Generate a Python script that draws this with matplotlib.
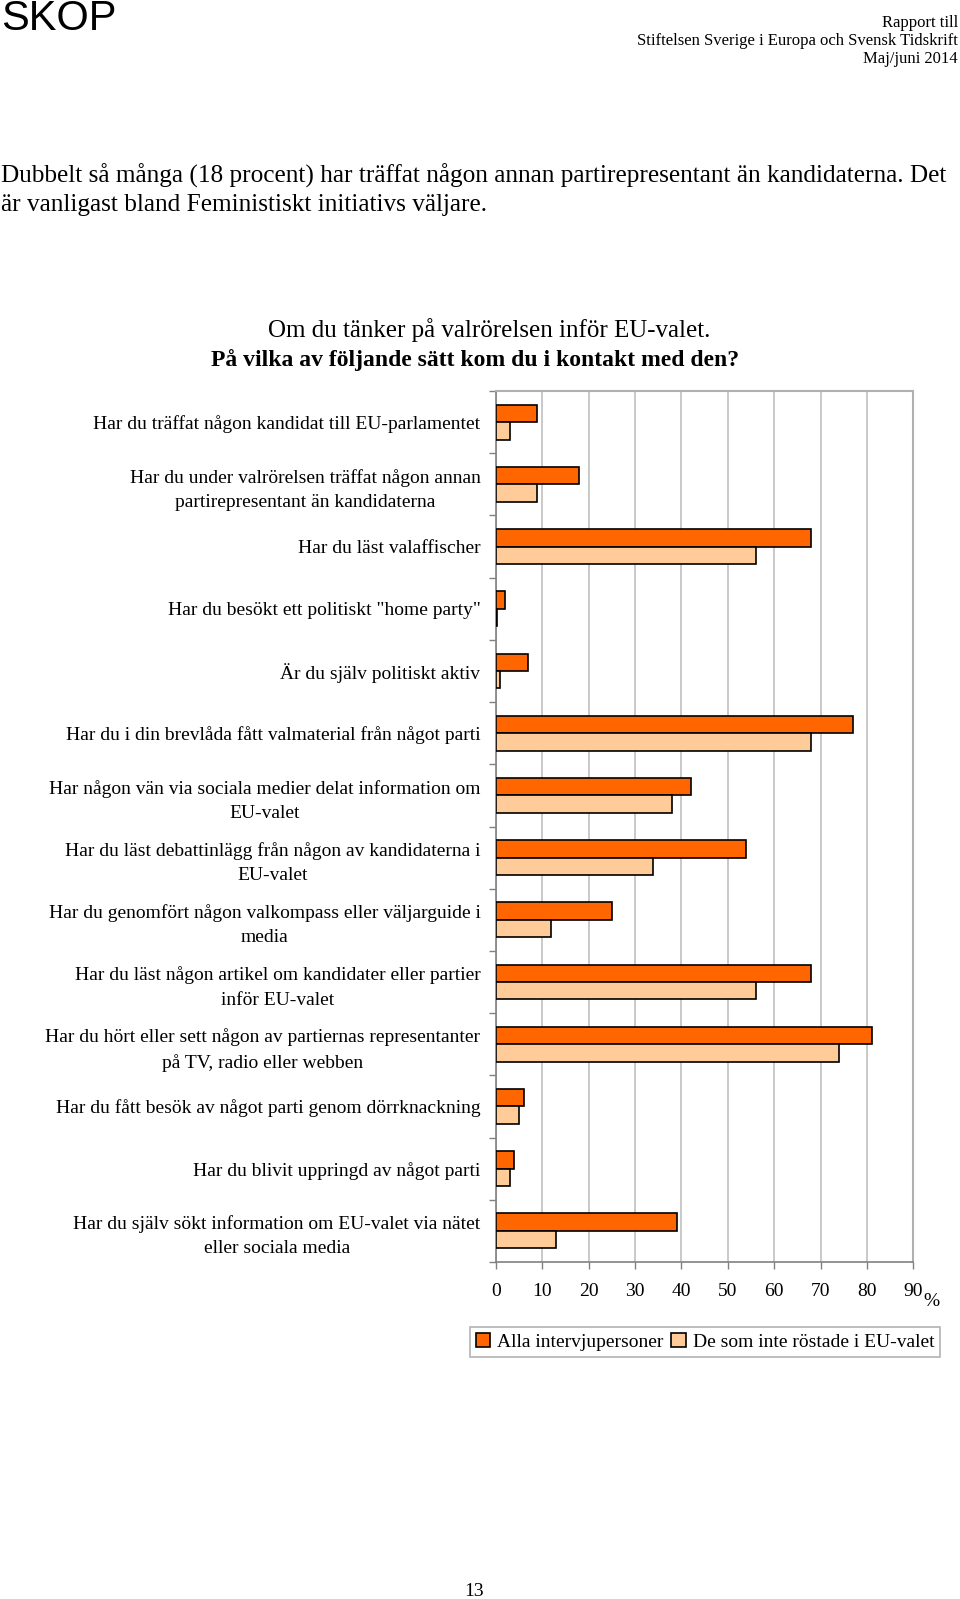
import matplotlib.pyplot as plt
import numpy as np

# Data (percent)
kategorier = [
    'Har du träffat någon kandidat till EU-parlamentet',
    'Har du under valrörelsen träffat någon annan\npartirepresentant än kandidaterna',
    'Har du läst valaffischer',
    'Har du besökt ett politiskt "home party"',
    'Är du själv politiskt aktiv',
    'Har du i din brevlåda fått valmaterial från något parti',
    'Har någon vän via sociala medier delat information om\nEU-valet',
    'Har du läst debattinlägg från någon av kandidaterna i\nEU-valet',
    'Har du genomfört någon valkompass eller väljarguide i\nmedia',
    'Har du läst någon artikel om kandidater eller partier\ninför EU-valet',
    'Har du hört eller sett någon av partiernas representanter\npå TV, radio eller webben',
    'Har du fått besök av något parti genom dörrknackning',
    'Har du blivit uppringd av något parti',
    'Har du själv sökt information om EU-valet via nätet\neller sociala media',
]
alla = [9, 18, 68, 2, 7, 77, 42, 54, 25, 68, 81, 6, 4, 39]
ej_rostat = [3, 9, 56, 0.3, 1, 68, 38, 34, 12, 56, 74, 5, 3, 13]
serier = ['Alla intervjupersoner', 'De som inte röstade i EU-valet']
x_ticks = [0, 10, 20, 30, 40, 50, 60, 70, 80, 90]

serif = 'Liberation Serif'
sans = 'Liberation Sans'

fig = plt.figure(figsize=(9.6, 15.99), dpi=100)

# Sidhuvud
fig.text(0.001, 1 - 19 / 1599, 'SKOP', family=sans, fontsize=30, ha='left', va='center')
fig.text(0.998, 1 - 41 / 1599, 'Rapport till\nStiftelsen Sverige i Europa och Svensk Tidskrift\nMaj/juni 2014',
         family=serif, fontsize=12, ha='right', va='center', multialignment='right', linespacing=1.2)

# Brödtext
fig.text(0.001, 1 - 175.5 / 1599, 'Dubbelt så många (18 procent) har träffat någon annan partirepresentant än kandidaterna. Det',
         family=serif, fontsize=18.2, ha='left', va='center')
fig.text(0.001, 1 - 205 / 1599, 'är vanligast bland Feministiskt initiativs väljare.',
         family=serif, fontsize=18.2, ha='left', va='center')

# Rubrik
fig.text(489 / 960, 1 - 330 / 1599, 'Om du tänker på valrörelsen inför EU-valet.',
         family=serif, fontsize=18, ha='center', va='center')
fig.text(475 / 960, 1 - 360 / 1599, 'På vilka av följande sätt kom du i kontakt med den?',
         family=serif, fontsize=17, fontweight='bold', ha='center', va='center')

ax = fig.add_axes([495.7 / 960, 1 - 1262 / 1599, 417.6 / 960, 871 / 1599])

y = np.arange(len(kategorier))
h = 0.28
ax.barh(y - h / 2, alla, height=h, color='#FF6600', edgecolor='black', linewidth=1.2, label=serier[0], zorder=3)
ax.barh(y + h / 2, ej_rostat, height=h, color='#FFCC99', edgecolor='black', linewidth=1.2, label=serier[1], zorder=3)

ax.set_xlim(0, 90)
ax.set_ylim(len(kategorier) - 0.5, -0.5)
ax.set_xticks(x_ticks)
ax.set_xticklabels([str(v) for v in x_ticks], family=serif, fontsize=14)
ax.tick_params(axis='x', length=5, width=1, color='#808080', pad=10)

# Kategorietiketter mellan tickmarkeringar
ax.set_yticks(y)
ax.set_yticklabels(kategorier, family=serif, fontsize=14)
for lbl in ax.get_yticklabels():
    lbl.set_multialignment('center')
    lbl.set_linespacing(1.55)
ax.tick_params(axis='y', length=0, pad=11)
ax.set_yticks(np.arange(len(kategorier) + 1) - 0.5, minor=True)
ax.tick_params(axis='y', which='minor', length=5, width=1, color='#808080')

ax.grid(axis='x', color='#C0C0C0', linewidth=1.2, zorder=0)
ax.set_axisbelow(True)
for s in ['top', 'right']:
    ax.spines[s].set_color('#B0B0B0')
    ax.spines[s].set_linewidth(1.5)
for s in ['left', 'bottom']:
    ax.spines[s].set_color('#808080')
    ax.spines[s].set_linewidth(1.2)

fig.text(931 / 960, 1 - 1302 / 1599, '%', family=serif, fontsize=14, ha='center', va='center')

leg = fig.legend(loc='center', bbox_to_anchor=(705 / 960, 1 - 1342 / 1599), ncol=2,
                 prop={'family': serif, 'size': 14}, frameon=True, fancybox=False,
                 handlelength=0.75, handleheight=0.75, handletextpad=0.35, columnspacing=0.4,
                 borderpad=0.3, borderaxespad=0)
leg.get_frame().set_edgecolor('#A0A0A0')
leg.get_frame().set_linewidth(1.2)

fig.text(474 / 960, 1 - 1592 / 1599, '13', family=serif, fontsize=14, ha='center', va='center')

fig.savefig('out.png', dpi=100)
